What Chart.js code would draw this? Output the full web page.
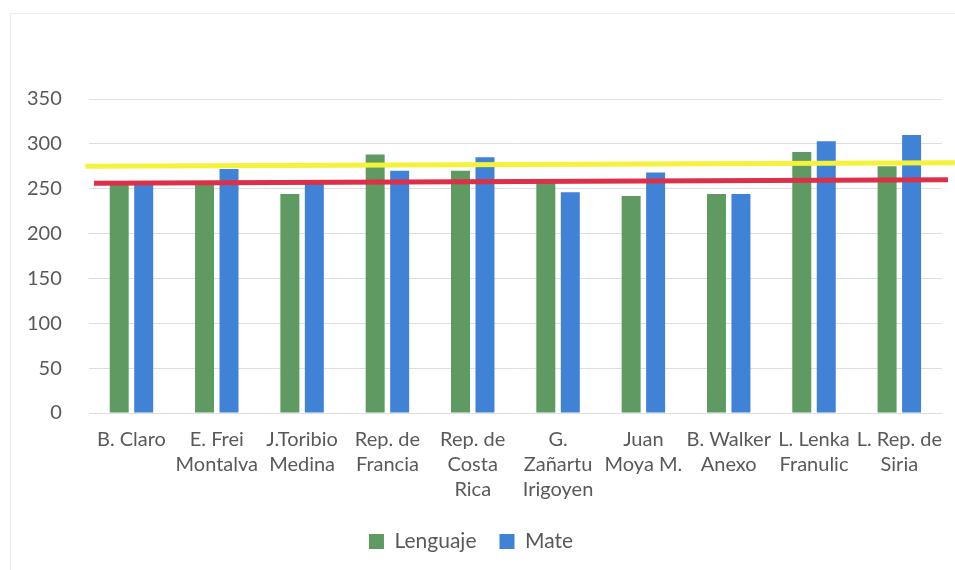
<!DOCTYPE html>
<html>
<head>
<meta charset="utf-8">
<script src="https://cdn.jsdelivr.net/npm/chart.js@4/dist/chart.umd.min.js"></script>
<style>
  body { margin: 0; background: #fff; }
  #wrap { position: relative; width: 955px; height: 570px; }
  #frame { position: absolute; left: 10px; top: 13px; right: -5px; bottom: -5px; border: 1px solid #ececec; }
</style>
</head>
<body>
<div id="wrap">
  <div id="frame"></div>
  <canvas id="chart" width="955" height="570"></canvas>
</div>
<script>
const schools = [
    "B. Claro", ["E. Frei", "Montalva"], ["J.Toribio", "Medina"], ["Rep. de", "Francia"],
    ["Rep. de", "Costa", "Rica"], ["G.", "Zañartu", "Irigoyen"], ["Juan", "Moya M."],
    ["B. Walker", "Anexo"], ["L. Lenka", "Franulic"], ["L. Rep. de", "Siria"]
];
const lenguaje = [255, 256, 244, 288, 270, 257, 242, 244, 291, 275];
const mate = [255, 272, 257, 270, 285, 246, 268, 244, 303, 310];
const yellowLine = [275, 279];
const redLine = [256, 260];
const yTicks = [0, 50, 100, 150, 200, 250, 300, 350];

const font = "Lato, 'Open Sans', sans-serif";

new Chart(document.getElementById("chart"), {
    data: {
        labels: schools,
        datasets: [
            {
                type: "line", label: "yellow", xAxisID: "xl", order: 0,
                data: [{x: -0.04, y: yellowLine[0]}, {x: 10.15, y: yellowLine[1]}],
                borderColor: "#f4f23a", borderWidth: 5, pointRadius: 0, clip: false
            },
            {
                type: "line", label: "red", xAxisID: "xl", order: 0,
                data: [{x: 0.06, y: redLine[0]}, {x: 10.07, y: redLine[1]}],
                borderColor: "#dc2f48", borderWidth: 5, pointRadius: 0, clip: false
            },
            {
                type: "bar", label: "Lenguaje", data: lenguaje, order: 2,
                backgroundColor: "#5e9a62", categoryPercentage: 1.148, barPercentage: 0.775
            },
            {
                type: "bar", label: "Mate", data: mate, order: 2,
                backgroundColor: "#3f82d6", categoryPercentage: 1.148, barPercentage: 0.775
            }
        ]
    },
    options: {
        responsive: false,
        animation: false,
        layout: {padding: {top: 99, right: 13, left: 0, bottom: 8}},
        scales: {
            x: {
                grid: {display: false},
                border: {display: false},
                ticks: {color: "#595959", font: {family: font, size: 20, lineHeight: 1.25}, maxRotation: 0, autoSkip: false, padding: 6}
            },
            xl: {type: "linear", display: false, min: 0, max: 10},
            y: {
                min: 0, max: 350,
                afterBuildTicks: axis => { axis.ticks = yTicks.map(v => ({value: v})); },
                grid: {color: "#dedede", drawTicks: false},
                border: {display: false},
                ticks: {color: "#595959", font: {family: font, size: 20}, padding: 27}
            }
        },
        plugins: {
            tooltip: {enabled: false},
            legend: {
                position: "bottom",
                labels: {
                    filter: item => item.text === "Lenguaje" || item.text === "Mate",
                    color: "#595959", font: {family: font, size: 21},
                    boxWidth: 15, boxHeight: 15, padding: 23
                }
            }
        }
    }
});
</script>
</body>
</html>
